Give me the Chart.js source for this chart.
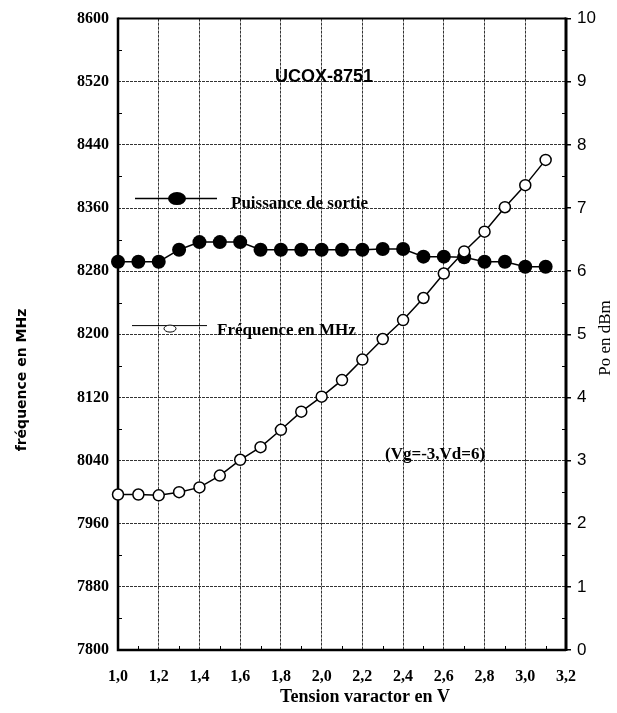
<!DOCTYPE html>
<html>
<head>
<meta charset="utf-8">
<script src="https://cdn.jsdelivr.net/npm/chart.js@4/dist/chart.umd.min.js"></script>
<style>
  html, body { margin: 0; padding: 0; background: #fff; }
  #wrap { width: 617px; height: 713px; }
</style>
</head>
<body>
<div id="wrap"><canvas id="c" width="617" height="713"></canvas></div>
<script>
// Varactor tuning sweep of the UCOX-8751 oscillator
const volts     = [1.0, 1.1, 1.2, 1.3, 1.4, 1.5, 1.6, 1.7, 1.8, 1.9, 2.0, 2.1, 2.2, 2.3, 2.4, 2.5, 2.6, 2.7, 2.8, 2.9, 3.0, 3.1];
const freqMHz   = [7997, 7997, 7996, 8000, 8006, 8021, 8041, 8057, 8079, 8102, 8121, 8142, 8168, 8194, 8218, 8246, 8277, 8305, 8330, 8361, 8389, 8421];
const powerDbm  = [6.15, 6.15, 6.15, 6.34, 6.46, 6.46, 6.46, 6.34, 6.34, 6.34, 6.34, 6.34, 6.34, 6.35, 6.35, 6.23, 6.23, 6.22, 6.15, 6.15, 6.07, 6.07];

const xTicks     = [1.0, 1.2, 1.4, 1.6, 1.8, 2.0, 2.2, 2.4, 2.6, 2.8, 3.0, 3.2];
const freqTicks  = [7800, 7880, 7960, 8040, 8120, 8200, 8280, 8360, 8440, 8520, 8600];
const powerTicks = [0, 1, 2, 3, 4, 5, 6, 7, 8, 9, 10];

const SERIF = '"Liberation Serif", "Times New Roman", serif';
const SANS  = '"Liberation Sans", Arial, sans-serif';
const GRID  = '#333';

const decor = {
  id: 'decor',
  beforeDatasetsDraw(chart) {
    const { ctx, chartArea: a, scales: { x, y, y1 } } = chart;
    ctx.save();
    // small inner ticks between the labelled ones
    ctx.strokeStyle = '#000';
    ctx.lineWidth = 1;
    ctx.beginPath();
    for (let k = 1; k < 22; k += 2) {
      const px = Math.round(x.getPixelForValue(1 + k * 0.1)) + 0.5;
      ctx.moveTo(px, a.bottom); ctx.lineTo(px, a.bottom - 4);
    }
    for (let i = 0; i < freqTicks.length - 1; i++) {
      const py = Math.round(y.getPixelForValue((freqTicks[i] + freqTicks[i + 1]) / 2)) + 0.5;
      ctx.moveTo(a.left, py); ctx.lineTo(a.left + 4, py);
    }
    for (let i = 0; i < powerTicks.length - 1; i++) {
      const py = Math.round(y1.getPixelForValue(powerTicks[i] + 0.5)) + 0.5;
      ctx.moveTo(a.right, py); ctx.lineTo(a.right - 4, py);
    }
    ctx.stroke();

    // frame
    ctx.strokeStyle = '#000';
    ctx.lineWidth = 2;
    ctx.beginPath(); ctx.moveTo(a.left, a.top); ctx.lineTo(a.right, a.top); ctx.stroke();
    ctx.lineWidth = 2.5;
    ctx.beginPath(); ctx.moveTo(a.left, a.top - 1); ctx.lineTo(a.left, a.bottom); ctx.lineTo(a.right, a.bottom); ctx.stroke();
    ctx.lineWidth = 3;
    ctx.beginPath(); ctx.moveTo(a.right, a.top - 1); ctx.lineTo(a.right, a.bottom + 1); ctx.stroke();
    ctx.restore();
  },
  afterDatasetsDraw(chart) {
    const { ctx, chartArea: a } = chart;
    ctx.save();
    ctx.fillStyle = '#000';
    ctx.strokeStyle = '#000';

    // title inside the plot
    ctx.font = 'bold 18px ' + SANS;
    ctx.textBaseline = 'alphabetic';
    ctx.textAlign = 'left';
    ctx.fillText('UCOX-8751', a.left + 157, a.top + 63);

    // key: output power
    ctx.lineWidth = 1.5;
    ctx.beginPath(); ctx.moveTo(a.left + 17, a.top + 180); ctx.lineTo(a.left + 99, a.top + 180); ctx.stroke();
    ctx.beginPath(); ctx.ellipse(a.left + 59, a.top + 180, 9, 6.5, 0, 0, Math.PI * 2); ctx.fill();
    ctx.font = 'bold 17px ' + SERIF;
    ctx.fillText('Puissance de sortie', a.left + 113, a.top + 189);

    // key: frequency
    ctx.lineWidth = 1;
    ctx.beginPath(); ctx.moveTo(a.left + 14, a.top + 307); ctx.lineTo(a.left + 89, a.top + 307); ctx.stroke();
    ctx.fillStyle = '#fff';
    ctx.beginPath(); ctx.ellipse(a.left + 52, a.top + 310, 6, 3.5, 0, 0, Math.PI * 2); ctx.fill(); ctx.stroke();
    ctx.fillStyle = '#000';
    ctx.fillText('Fréquence en MHz', a.left + 99, a.top + 316);

    // bias conditions
    ctx.font = 'bold 17px ' + SERIF;
    ctx.fillText('(Vg=-3,Vd=6)', a.left + 267, a.top + 440);
    ctx.restore();
  },
  afterDraw(chart) {
    const { ctx } = chart;
    ctx.save();
    ctx.fillStyle = '#000';
    ctx.textAlign = 'center';
    ctx.textBaseline = 'middle';

    ctx.font = 'bold 18px ' + SERIF;
    ctx.fillText('Tension varactor en V', 365, 697);

    ctx.save();
    ctx.translate(22, 380);
    ctx.rotate(-Math.PI / 2);
    ctx.font = 'bold 14px "DejaVu Sans", sans-serif';
    ctx.fillText('fréquence en MHz', 0, 0);
    ctx.restore();

    ctx.save();
    ctx.translate(606, 338);
    ctx.rotate(-Math.PI / 2);
    ctx.font = '17px ' + SERIF;
    ctx.fillText('Po en dBm', 0, 0);
    ctx.restore();
    ctx.restore();
  }
};

new Chart(document.getElementById('c'), {
  type: 'line',
  data: {
    datasets: [
      {
        label: 'Fréquence en MHz',
        yAxisID: 'y',
        data: volts.map((v, i) => ({ x: v, y: freqMHz[i] })),
        borderColor: '#000',
        borderWidth: 1.5,
        pointRadius: 5.5,
        pointBorderWidth: 1.5,
        pointBackgroundColor: '#fff',
        pointBorderColor: '#000',
        tension: 0,
        clip: false
      },
      {
        label: 'Puissance de sortie',
        yAxisID: 'y1',
        data: volts.map((v, i) => ({ x: v, y: powerDbm[i] })),
        borderColor: '#000',
        borderWidth: 1.5,
        pointRadius: 7,
        pointBorderWidth: 0,
        pointBackgroundColor: '#000',
        pointBorderColor: '#000',
        tension: 0,
        clip: false
      }
    ]
  },
  options: {
    responsive: false,
    devicePixelRatio: 1,
    animation: false,
    layout: { padding: { top: 17, left: 0, right: 0, bottom: 0 } },
    plugins: { legend: { display: false }, tooltip: { enabled: false } },
    scales: {
      x: {
        type: 'linear',
        min: 1.0,
        max: 3.2,
        afterBuildTicks: s => { s.ticks = xTicks.map(v => ({ value: v })); },
        afterFit: s => { s.height = 63; },
        grid: { color: GRID, lineWidth: 1, drawTicks: false },
        border: { display: false, dash: [3, 1] },
        ticks: {
          padding: 17,
          color: '#000',
          font: { family: SERIF, size: 16, weight: 'bold' },
          maxRotation: 0,
          autoSkip: false,
          callback: v => v.toFixed(1).replace('.', ',')
        }
      },
      y: {
        type: 'linear',
        position: 'left',
        min: 7800,
        max: 8600,
        afterBuildTicks: s => { s.ticks = freqTicks.map(v => ({ value: v })); },
        afterFit: s => { s.width = 118; },
        grid: { color: GRID, lineWidth: 1, drawTicks: false },
        border: { display: false, dash: [3, 1] },
        ticks: {
          padding: 9,
          color: '#000',
          font: { family: SERIF, size: 16, weight: 'bold' },
          autoSkip: false,
          callback: v => String(v)
        }
      },
      y1: {
        type: 'linear',
        position: 'right',
        min: 0,
        max: 10,
        afterBuildTicks: s => { s.ticks = powerTicks.map(v => ({ value: v })); },
        afterFit: s => { s.width = 51; },
        grid: { drawOnChartArea: false, drawTicks: true, tickLength: 5, tickColor: '#000', lineWidth: 1.5 },
        border: { display: false },
        ticks: {
          padding: 6,
          color: '#000',
          font: { family: SANS, size: 17 },
          autoSkip: false,
          callback: v => String(v)
        }
      }
    }
  },
  plugins: [decor]
});
</script>
</body>
</html>
